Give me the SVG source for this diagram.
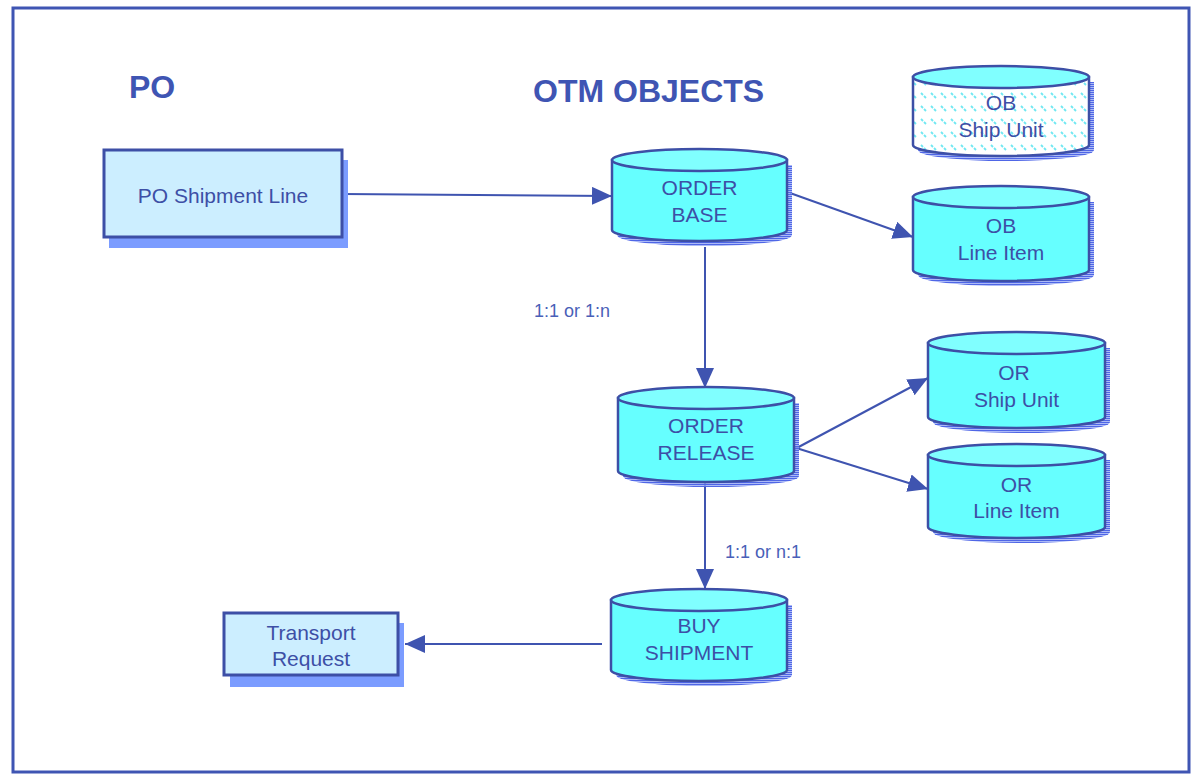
<svg xmlns="http://www.w3.org/2000/svg" width="1191" height="775" viewBox="0 0 1191 775">
<style>
.lbl{font-family:"Liberation Sans",Arial,sans-serif;font-size:21px;fill:#3d4fa6;text-anchor:middle}
.ttl{font-family:"Liberation Sans",Arial,sans-serif;font-size:32px;font-weight:bold;fill:#3f55b3}
.card{font-family:"Liberation Sans",Arial,sans-serif;font-size:18px;fill:#4a5fb8}
.cyl{fill:#66ffff;stroke:#3d4fa6;stroke-width:2.5}
.top{fill:#80ffff;stroke:#3d4fa6;stroke-width:2.5}
.sh{fill:url(#stripes)}
.box{fill:#cceeff;stroke:#3d4fa6;stroke-width:3}
.bsh{fill:#7b9cff}
.con{stroke:#3f54b0;stroke-width:2;fill:none;marker-end:url(#arr)}
</style>
<defs>
<pattern id="stripes" width="4" height="2" patternUnits="userSpaceOnUse">
<rect width="4" height="1.3" fill="#4f66e6"/>
<rect y="1.3" width="4" height="0.7" fill="#9fb0f5"/>
</pattern>
<pattern id="hatch" width="10" height="13" patternUnits="userSpaceOnUse">
<rect width="10" height="13" fill="#ffffff"/>
<path d="M1,2 L3,4 M4,5 L6,7" stroke="#70e8f2" stroke-width="1.8"/>
</pattern>
<marker id="arr" markerWidth="22" markerHeight="20" refX="20" refY="9" orient="auto" markerUnits="userSpaceOnUse">
<path d="M0,0 L20,9 L0,18 Z" fill="#3f54b0"/>
</marker>
</defs>
<rect width="1191" height="775" fill="#ffffff"/>
<rect x="13" y="8" width="1176" height="764" fill="none" stroke="#3f55b3" stroke-width="3"/>
<text class="ttl" x="129" y="98">PO</text>
<text class="ttl" x="533" y="102">OTM OBJECTS</text>

<g id="connectors">
<line class="con" x1="342" y1="194" x2="612" y2="196"/>
<line class="con" x1="790" y1="193" x2="913" y2="237"/>
<line class="con" x1="705" y1="247" x2="705" y2="388"/>
<line class="con" x1="793" y1="450" x2="928" y2="378"/>
<line class="con" x1="793" y1="447" x2="928" y2="489"/>
<line class="con" x1="705" y1="481" x2="705" y2="589"/>
<line class="con" x1="602" y1="644" x2="405" y2="644"/>
<text class="card" x="534" y="317">1:1 or 1:n</text>
<text class="card" x="725" y="558">1:1 or n:1</text>
</g>

<g id="po-shipment-line">
<rect class="bsh" x="109" y="160" width="239" height="88"/>
<rect class="box" x="104" y="150" width="238" height="87"/>
<text class="lbl" x="223" y="203">PO Shipment Line</text>
</g>

<g id="transport-request">
<rect class="bsh" x="230" y="623" width="174" height="64"/>
<rect class="box" x="224" y="613" width="174" height="62"/>
<text class="lbl" x="311" y="640">Transport</text>
<text class="lbl" x="311" y="666">Request</text>
</g>

<g id="ob-ship-unit">
<path class="sh" d="M918,82 L918,150 A88,11 0 0 0 1094,150 L1094,82 Z"/>
<path d="M913,77 L913,145 A88,11 0 0 0 1089,145 L1089,77 Z" fill="url(#hatch)" stroke="#3d4fa6" stroke-width="2.5"/>
<ellipse class="top" cx="1001" cy="77" rx="88" ry="11"/>
<text class="lbl" x="1001" y="110">OB</text>
<text class="lbl" x="1001" y="137">Ship Unit</text>
</g>

<g id="order-base">
<path class="sh" d="M617,165 L617,235 A87.5,11 0 0 0 792,235 L792,165 Z"/>
<path class="cyl" d="M612,160 L612,230 A87.5,11 0 0 0 787,230 L787,160 Z"/>
<ellipse class="top" cx="699.5" cy="160" rx="87.5" ry="11"/>
<text class="lbl" x="699.5" y="195">ORDER</text>
<text class="lbl" x="699.5" y="222">BASE</text>
</g>

<g id="ob-line-item">
<path class="sh" d="M918,202 L918,275 A88,11 0 0 0 1094,275 L1094,202 Z"/>
<path class="cyl" d="M913,197 L913,270 A88,11 0 0 0 1089,270 L1089,197 Z"/>
<ellipse class="top" cx="1001" cy="197" rx="88" ry="11"/>
<text class="lbl" x="1001" y="233">OB</text>
<text class="lbl" x="1001" y="260">Line Item</text>
</g>

<g id="order-release">
<path class="sh" d="M623,403 L623,476 A88,11 0 0 0 799,476 L799,403 Z"/>
<path class="cyl" d="M618,398 L618,471 A88,11 0 0 0 794,471 L794,398 Z"/>
<ellipse class="top" cx="706" cy="398" rx="88" ry="11"/>
<text class="lbl" x="706" y="433">ORDER</text>
<text class="lbl" x="706" y="460">RELEASE</text>
</g>

<g id="or-ship-unit">
<path class="sh" d="M933,348 L933,422 A88.5,11 0 0 0 1110,422 L1110,348 Z"/>
<path class="cyl" d="M928,343 L928,417 A88.5,11 0 0 0 1105,417 L1105,343 Z"/>
<ellipse class="top" cx="1016.5" cy="343" rx="88.5" ry="11"/>
<text class="lbl" x="1014" y="380">OR</text>
<text class="lbl" x="1016.5" y="407">Ship Unit</text>
</g>

<g id="or-line-item">
<path class="sh" d="M933,460 L933,532 A88.5,11 0 0 0 1110,532 L1110,460 Z"/>
<path class="cyl" d="M928,455 L928,527 A88.5,11 0 0 0 1105,527 L1105,455 Z"/>
<ellipse class="top" cx="1016.5" cy="455" rx="88.5" ry="11"/>
<text class="lbl" x="1016.5" y="492">OR</text>
<text class="lbl" x="1016.5" y="518">Line Item</text>
</g>

<g id="buy-shipment">
<path class="sh" d="M616,605 L616,675 A88,11 0 0 0 792,675 L792,605 Z"/>
<path class="cyl" d="M611,600 L611,670 A88,11 0 0 0 787,670 L787,600 Z"/>
<ellipse class="top" cx="699" cy="600" rx="88" ry="11"/>
<text class="lbl" x="699" y="633">BUY</text>
<text class="lbl" x="699" y="660">SHIPMENT</text>
</g>
</svg>
